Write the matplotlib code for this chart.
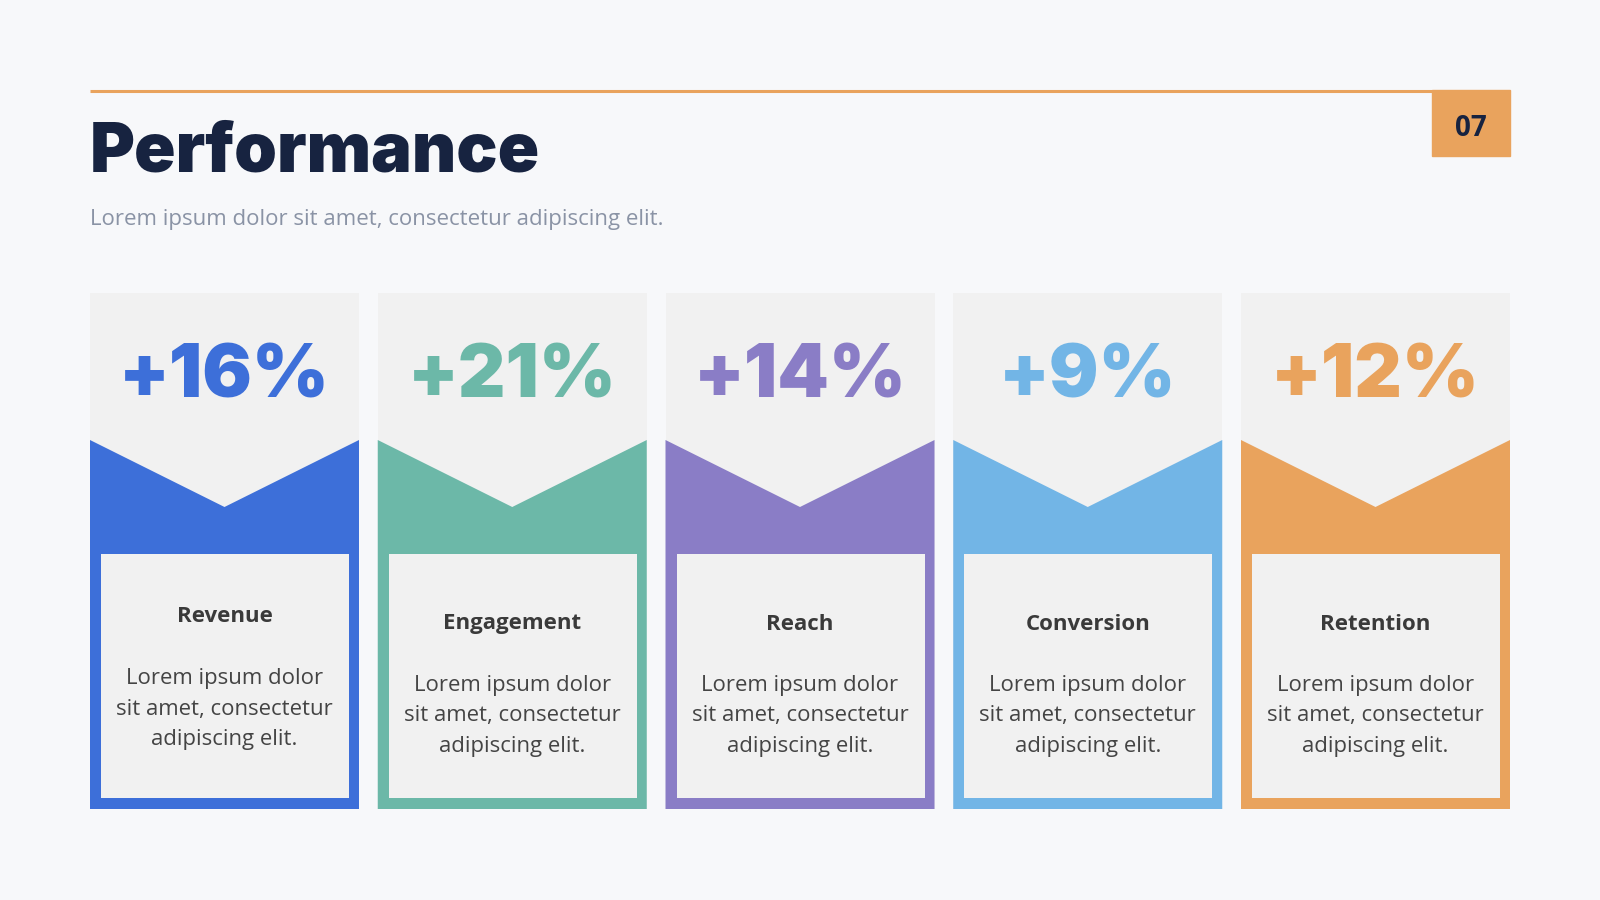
import matplotlib
matplotlib.use("Agg")
import matplotlib.pyplot as plt
from matplotlib.patches import Rectangle, Polygon

# slide content
metrics = ["Revenue", "Engagement", "Reach", "Conversion", "Retention"]
changes = [16, 21, 14, 9, 12]
colors = ["#3d6fd9", "#6cb8a8", "#8a7dc6", "#72b5e6", "#e9a35d"]
blurb = "Lorem ipsum dolor\nsit amet, consectetur\nadipiscing elit."
title = "Performance"
subtitle = "Lorem ipsum dolor sit amet, consectetur adipiscing elit."
page = "07"

bg = "#f7f8fa"
panel = "#f1f1f1"
navy = "#172340"

fig = plt.figure(figsize=(16, 9), dpi=100, facecolor=bg)
ax = fig.add_axes([0, 0, 1, 1])
ax.set_xlim(0, 1600)
ax.set_ylim(900, 0)
ax.axis("off")

# header
ax.plot([90, 1432], [91, 91], color="#e9a35d", lw=2.2, solid_capstyle="butt")
ax.add_patch(Rectangle((1432, 90), 78, 66, color="#e9a35d"))
ax.text(1471, 128, page, ha="center", va="center", fontsize=20,
        fontweight="bold", color=navy, family="Open Sans")
ax.text(90, 171, title, ha="left", va="baseline", fontsize=49.3,
        fontweight="black", color=navy, family="Inter")
ax.text(90, 219, subtitle, ha="left", va="center", fontsize=16,
        color="#8a93a5", family="Open Sans")

# cards
x0, step, w = 90, 287.75, 269
top, bottom = 293, 809
side_y, tip_y = 440, 507
for i, (name, val, c) in enumerate(zip(metrics, changes, colors)):
    left = x0 + i * step
    cx = left + w / 2
    ax.add_patch(Rectangle((left, top), w, bottom - top, color=panel, lw=0))
    ax.add_patch(Polygon([(left, side_y), (cx, tip_y), (left + w, side_y),
                          (left + w, bottom), (left, bottom)],
                         closed=True, color=c, lw=0))
    ax.add_patch(Rectangle((left + 11, 554), w - 21, 244, color=panel, lw=0))
    ax.text(cx, 398, f"+{val}%", ha="center", va="baseline", fontsize=53,
            fontweight="black", color=c, family="Inter")
    dy = -7 if i == 0 else 0
    ax.text(cx, 624 + dy, name, ha="center", va="center", fontsize=16,
            fontweight="bold", color="#3a3a3a", family="Open Sans")
    ax.text(cx, 716 + dy, blurb, ha="center", va="center", fontsize=15.9,
            color="#444444", family="Open Sans", linespacing=1.58)

fig.savefig("out.png", dpi=100, facecolor=bg)
